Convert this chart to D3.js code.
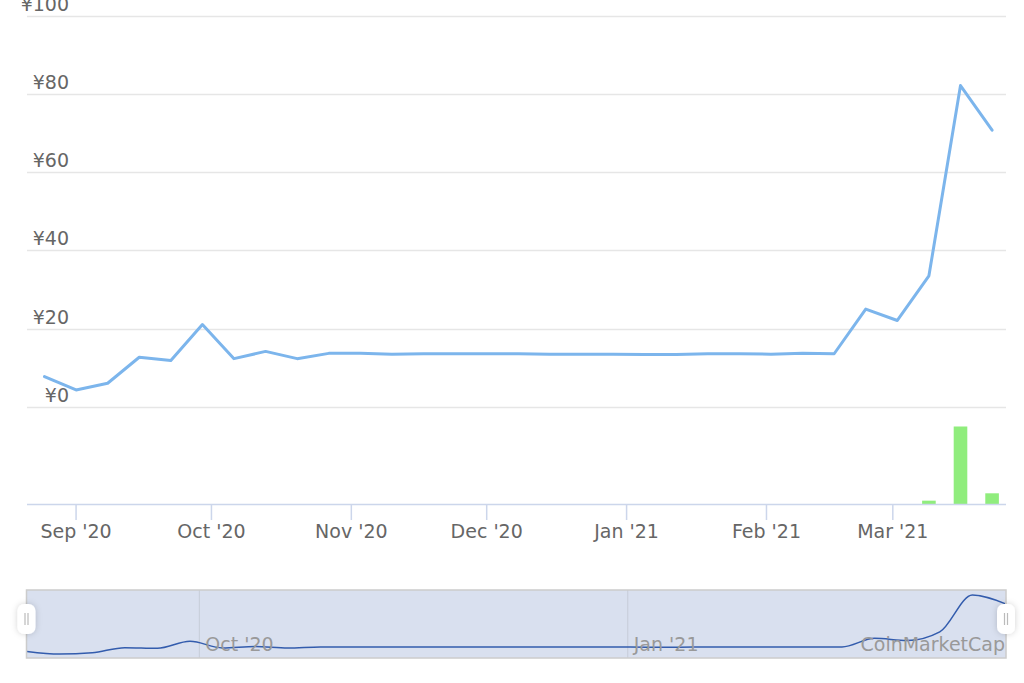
<!DOCTYPE html>
<html>
<head>
<meta charset="utf-8">
<script src="https://cdn.jsdelivr.net/npm/d3@7"></script>
<style>
  html, body { margin: 0; padding: 0; background: #fff; }
  svg { display: block; font-family: "DejaVu Sans", sans-serif; }
</style>
</head>
<body>
<svg id="chart" width="1024" height="683"></svg>
<script>
// ---- data (weekly) ----
const dates = [
  "2020-08-25","2020-09-01","2020-09-08","2020-09-15","2020-09-22","2020-09-29",
  "2020-10-06","2020-10-13","2020-10-20","2020-10-27","2020-11-03","2020-11-10",
  "2020-11-17","2020-11-24","2020-12-01","2020-12-08","2020-12-15","2020-12-22",
  "2020-12-29","2021-01-05","2021-01-12","2021-01-19","2021-01-26","2021-02-02",
  "2021-02-09","2021-02-16","2021-02-23","2021-03-02","2021-03-09","2021-03-16",
  "2021-03-23"
];
const prices = [
  7.75, 4.35, 6.06, 12.7, 11.85, 21.05,
  12.35, 14.2, 12.35, 13.7, 13.7, 13.5,
  13.6, 13.6, 13.6, 13.6, 13.5, 13.5,
  13.5, 13.4, 13.4, 13.6, 13.6, 13.5,
  13.7, 13.6, 25.0, 22.1, 33.5, 82.1,
  70.7
];
const volumes = [
  0, 0, 0, 0, 0, 0,
  0, 0, 0, 0, 0, 0,
  0, 0, 0, 0, 0, 0,
  0, 0, 0, 0, 0, 0,
  0, 0, 0, 0, 0.43, 10.0,
  1.38
];
const priceTicks = [0, 20, 40, 60, 80, 100];
const creditText = "CoinMarketCap";

// ---- setup ----
const parse = d3.utcParse("%Y-%m-%d");
const data = dates.map((d, i) => ({ date: parse(d), price: prices[i], volume: volumes[i] }));
const svg = d3.select("#chart");

const plotLeft = 27, plotRight = 1006;
const x = d3.scaleUtc()
  .domain([Date.UTC(2020, 7, 21, 3), Date.UTC(2021, 2, 26, 2)])
  .range([plotLeft, plotRight]);
const y = d3.scaleLinear().domain([0, 100]).range([407, 15.5]);
const yVol = d3.scaleLinear().domain([0, 12]).range([504, 411]);

const labelColor = "#666666";

// gridlines
svg.append("g").selectAll("line").data(priceTicks).join("line")
  .attr("x1", plotLeft).attr("x2", plotRight)
  .attr("y1", d => Math.round(y(d)) + 0.5).attr("y2", d => Math.round(y(d)) + 0.5)
  .attr("stroke", "#e6e6e6").attr("stroke-width", 1.5);

// y labels
svg.append("g").selectAll("text").data(priceTicks).join("text")
  .attr("x", 69).attr("y", d => y(d) - 5)
  .attr("text-anchor", "end")
  .attr("fill", labelColor).attr("font-size", 19)
  .text(d => "¥" + d);

// volume bars
const barW = 13.6;
svg.append("g").selectAll("rect").data(data.filter(d => d.volume > 0)).join("rect")
  .attr("x", d => x(d.date) - barW / 2)
  .attr("width", barW)
  .attr("y", d => yVol(d.volume))
  .attr("height", d => yVol(0) - yVol(d.volume))
  .attr("fill", "#90ed7d");

// x axis line and ticks
svg.append("line")
  .attr("x1", plotLeft).attr("x2", plotRight)
  .attr("y1", 504.5).attr("y2", 504.5)
  .attr("stroke", "#ccd6eb").attr("stroke-width", 1.5);
const monthTicks = x.ticks(d3.utcMonth.every(1));
const fmt = d3.utcFormat("%b '%y");
svg.append("g").selectAll("line").data(monthTicks).join("line")
  .attr("x1", d => x(d)).attr("x2", d => x(d))
  .attr("y1", 504).attr("y2", 520)
  .attr("stroke", "#ccd6eb").attr("stroke-width", 1.5);
svg.append("g").selectAll("text").data(monthTicks).join("text")
  .attr("x", d => x(d)).attr("y", 538)
  .attr("text-anchor", "middle")
  .attr("fill", labelColor).attr("font-size", 19)
  .text(d => fmt(d));

// price line
svg.append("path").datum(data)
  .attr("d", d3.line().x(d => x(d.date)).y(d => y(d.price)))
  .attr("fill", "none").attr("stroke", "#7cb5ec").attr("stroke-width", 3)
  .attr("stroke-linejoin", "round").attr("stroke-linecap", "round");

// ---- navigator ----
const navTop = 590, navBottom = 658, navLeft = 26.5, navRight = 1006;
const xNav = d3.scaleUtc().domain(d3.extent(data, d => d.date)).range([27, 1005]);
const yNav = d3.scaleLinear().domain(d3.extent(prices)).range([654, 595]);

svg.append("rect")
  .attr("x", navLeft).attr("y", navTop)
  .attr("width", navRight - navLeft).attr("height", navBottom - navTop)
  .attr("fill", "#d9e0ef");

const navTicks = xNav.ticks(d3.utcMonth.every(3));
svg.append("g").selectAll("line").data(navTicks).join("line")
  .attr("x1", d => xNav(d)).attr("x2", d => xNav(d))
  .attr("y1", navTop).attr("y2", navBottom)
  .attr("stroke", "#c6ccd8").attr("stroke-width", 1);

svg.append("path").datum(data)
  .attr("d", d3.line().curve(d3.curveMonotoneX).x(d => xNav(d.date)).y(d => yNav(d.price)))
  .attr("fill", "none").attr("stroke", "#335cad").attr("stroke-width", 1.5);

svg.append("g").selectAll("text").data(navTicks).join("text")
  .attr("x", d => xNav(d) + 6).attr("y", 651)
  .attr("fill", "#999999").attr("font-size", 19)
  .text(d => fmt(d));

svg.append("text")
  .attr("x", 1005).attr("y", 651)
  .attr("text-anchor", "end")
  .attr("fill", "#999999").attr("font-size", 19)
  .text(creditText);

svg.append("rect")
  .attr("x", navLeft).attr("y", navTop)
  .attr("width", navRight - navLeft).attr("height", navBottom - navTop)
  .attr("fill", "none").attr("stroke", "#cccccc").attr("stroke-width", 1.5);

// handles
const defs = svg.append("defs");
const f = defs.append("filter").attr("id", "hshadow").attr("x", "-60%").attr("y", "-60%").attr("width", "220%").attr("height", "220%");
f.append("feDropShadow").attr("dx", 0).attr("dy", 0).attr("stdDeviation", 3).attr("flood-color", "#000").attr("flood-opacity", 0.18);

const handleXs = [navLeft, navRight];
const hg = svg.append("g").selectAll("g").data(handleXs).join("g")
  .attr("transform", d => `translate(${d},619)`);
hg.append("rect")
  .attr("x", -9).attr("y", -15).attr("width", 18).attr("height", 30).attr("rx", 7)
  .attr("fill", "#ffffff").attr("filter", "url(#hshadow)");
hg.append("line").attr("x1", -1.5).attr("x2", -1.5).attr("y1", -6).attr("y2", 6)
  .attr("stroke", "#bbbbbb").attr("stroke-width", 1.2);
hg.append("line").attr("x1", 1.5).attr("x2", 1.5).attr("y1", -6).attr("y2", 6)
  .attr("stroke", "#bbbbbb").attr("stroke-width", 1.2);
</script>
</body>
</html>
